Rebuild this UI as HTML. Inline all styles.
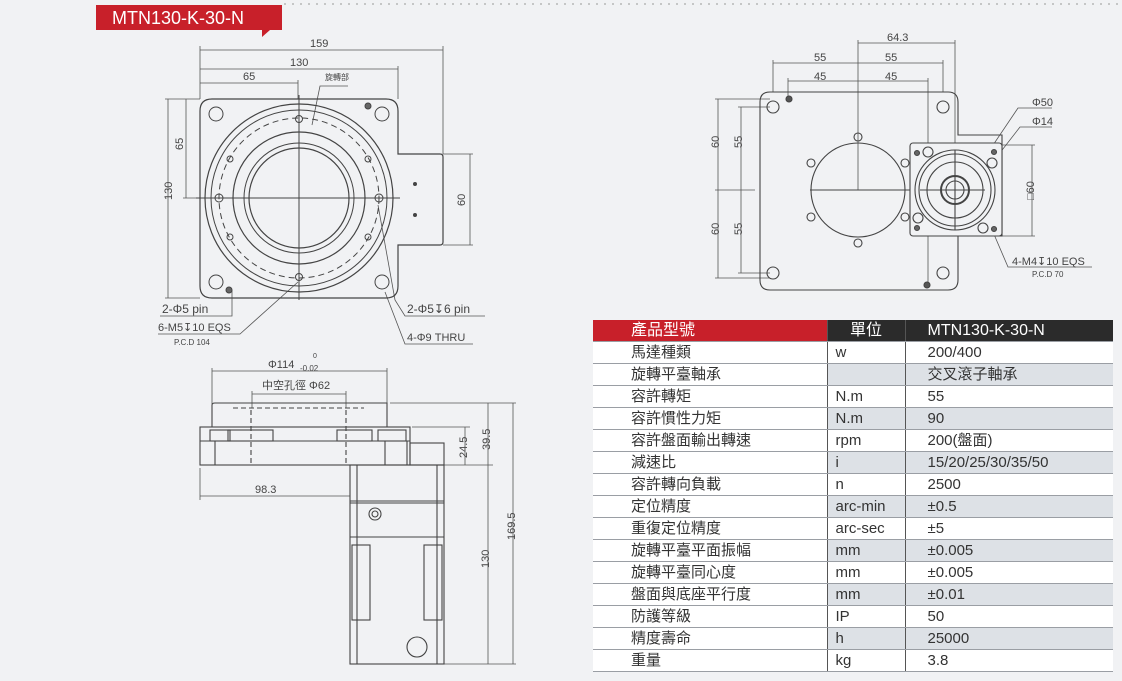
<!DOCTYPE html>
<html><head><meta charset="utf-8"><style>
body{margin:0;width:1122px;height:681px;background:#f1f2f4;font-family:"Liberation Sans","Noto Sans CJK TC",sans-serif;overflow:hidden;position:relative}
svg{position:absolute;left:0;top:0}
table{position:absolute;left:593px;top:320px;width:520px;border-collapse:collapse;table-layout:fixed;font-size:15px;color:#333}
td{height:21px;padding:0 0 0 8px;border-bottom:1px solid #9a9ea4;line-height:21px;box-sizing:border-box;white-space:nowrap;overflow:hidden}
td.c1{padding-left:38px;background:#fff}
td.c2{border-left:1px solid #555}
td.c3{border-left:1px solid #555;padding-left:22px}
tr.g td.c2,tr.g td.c3{background:#dde1e6}
tr.w td.c2,tr.w td.c3{background:#fff}
tr.h td{background:#2b2b2b;color:#fff;font-size:16px;height:21px}
tr.h td.c1{background:#c8202a}
tr.h td.c2{text-align:center;padding:0}
</style></head><body>
<svg width="1122" height="681" viewBox="0 0 1122 681" fill="none" stroke="#444" stroke-width="1" font-family="Liberation Sans, Noto Sans CJK TC, sans-serif">
<path d="M96 5 H282 V30 H270 L262 37 V30 H96 Z" fill="#c8202a" stroke="none"/>
<text x="112" y="24" fill="#fff" stroke="none" font-size="18">MTN130-K-30-N</text>
<line x1="284" y1="4" x2="1120" y2="4" stroke="#999" stroke-dasharray="2 6"/>
<g fill="#444" stroke="none" font-size="11">
<text x="310" y="47">159</text><text x="290" y="66">130</text><text x="243" y="80">65</text>
<text x="325" y="80" font-size="8">旋轉部</text>
<text x="172" y="200" transform="rotate(-90 172 200)">130</text>
<text x="183" y="150" transform="rotate(-90 183 150)">65</text>
<text x="465" y="206" transform="rotate(-90 465 206)">60</text>
<text x="162" y="313" font-size="12">2-Φ5 pin</text>
<text x="158" y="331" font-size="11">6-M5↧10 EQS</text>
<text x="174" y="345" font-size="8">P.C.D 104</text>
<text x="407" y="313" font-size="12">2-Φ5↧6 pin</text>
<text x="407" y="341" font-size="11">4-Φ9 THRU</text>
<text x="268" y="368">Φ114</text><text x="300" y="371" font-size="8">-0.02</text><text x="313" y="358" font-size="7">0</text>
<text x="262" y="389" font-size="11">中空孔徑 Φ62</text>
<text x="255" y="493">98.3</text>
<text x="467" y="458" transform="rotate(-90 467 458)">24.5</text>
<text x="490" y="450" transform="rotate(-90 490 450)">39.5</text>
<text x="515" y="540" transform="rotate(-90 515 540)">169.5</text>
<text x="489" y="568" transform="rotate(-90 489 568)">130</text>
<text x="887" y="41">64.3</text>
<text x="814" y="61">55</text><text x="885" y="61">55</text>
<text x="814" y="80">45</text><text x="885" y="80">45</text>
<text x="719" y="148" transform="rotate(-90 719 148)">60</text>
<text x="742" y="148" transform="rotate(-90 742 148)">55</text>
<text x="719" y="235" transform="rotate(-90 719 235)">60</text>
<text x="742" y="235" transform="rotate(-90 742 235)">55</text>
<text x="1032" y="106">Φ50</text><text x="1032" y="125">Φ14</text>
<text x="1034" y="200" transform="rotate(-90 1034 200)">□60</text>
<text x="1012" y="265">4-M4↧10 EQS</text>
<text x="1032" y="277" font-size="8">P.C.D 70</text>
</g>
<g stroke="#555" stroke-width="0.8">
<line x1="200" y1="50" x2="443" y2="50"/><line x1="200" y1="69" x2="398" y2="69"/><line x1="200" y1="83" x2="298" y2="83"/>
<line x1="200" y1="46" x2="200" y2="99"/><line x1="443" y1="46" x2="443" y2="154"/><line x1="398" y1="66" x2="398" y2="99"/><line x1="298" y1="80" x2="298" y2="99"/>
<line x1="168" y1="99" x2="168" y2="298"/><line x1="165" y1="99" x2="200" y2="99"/><line x1="165" y1="298" x2="200" y2="298"/>
<line x1="186" y1="99" x2="186" y2="198"/><line x1="183" y1="198" x2="215" y2="198"/>
<line x1="470" y1="154" x2="470" y2="245"/><line x1="443" y1="154" x2="473" y2="154"/><line x1="443" y1="245" x2="473" y2="245"/>
<polyline points="312,125 320,86 348,86"/>
<polyline points="160,316 232,316 232,290"/>
<polyline points="158,334 240,334 298,282"/>
<polyline points="485,316 405,316 395,300 378,205"/>
<polyline points="473,344 405,344 385,292"/>
</g>
<path d="M212 99 H386 Q398 99 398 111 V154 H440 Q443 154 443 157 V242 Q443 245 440 245 H398 V286 Q398 298 386 298 H212 Q200 298 200 286 V111 Q200 99 212 99 Z" stroke-width="1.2"/>
<circle cx="299" cy="198" r="94" stroke-width="1.2"/>
<circle cx="299" cy="198" r="88"/>
<circle cx="299" cy="198" r="80" stroke-dasharray="6 4"/>
<circle cx="299" cy="198" r="66" stroke-width="1.2"/>
<circle cx="299" cy="198" r="55"/>
<circle cx="299" cy="198" r="50" stroke-width="1.2"/>
<line x1="299" y1="95" x2="299" y2="300"/><line x1="196" y1="198" x2="400" y2="198"/>
<g><circle cx="216" cy="114" r="7"/><circle cx="382" cy="114" r="7"/><circle cx="216" cy="282" r="7"/><circle cx="382" cy="282" r="7"/>
<circle cx="299" cy="119" r="3.5"/><circle cx="299" cy="277" r="3.5"/><circle cx="230" cy="159" r="3"/><circle cx="368" cy="159" r="3"/><circle cx="230" cy="237" r="3"/><circle cx="368" cy="237" r="3"/>
<circle cx="219" cy="198" r="4"/><circle cx="379" cy="198" r="4"/><circle cx="229" cy="290" r="3" fill="#666"/><circle cx="368" cy="106" r="3" fill="#666"/>
<circle cx="415" cy="184" r="1.5" fill="#444"/><circle cx="415" cy="215" r="1.5" fill="#444"/></g>
<g stroke="#555" stroke-width="0.8">
<line x1="212" y1="371" x2="387" y2="371"/><line x1="212" y1="368" x2="212" y2="404"/><line x1="387" y1="368" x2="387" y2="404"/>
<line x1="252" y1="394" x2="346" y2="394"/><line x1="252" y1="391" x2="252" y2="408"/><line x1="346" y1="391" x2="346" y2="408"/>
<line x1="200" y1="496" x2="350" y2="496"/><line x1="200" y1="468" x2="200" y2="500"/>
<line x1="465" y1="427" x2="465" y2="465"/><line x1="412" y1="427" x2="470" y2="427"/>
<line x1="488" y1="403" x2="488" y2="664"/><line x1="390" y1="403" x2="516" y2="403"/><line x1="444" y1="465" x2="493" y2="465"/>
<line x1="513" y1="403" x2="513" y2="664"/><line x1="444" y1="664" x2="516" y2="664"/>
</g>
<g stroke-width="1.1">
<path d="M212 427 V405 Q212 403 215 403 H387 V427"/>
<line x1="233" y1="408" x2="364" y2="408" stroke-dasharray="5 3"/>
<rect x="200" y="427" width="210" height="38"/>
<rect x="410" y="443" width="34" height="22"/>
<line x1="200" y1="441" x2="410" y2="441"/>
<rect x="210" y="430" width="20" height="11"/><rect x="228" y="430" width="45" height="11"/><rect x="337" y="430" width="35" height="11"/><rect x="378" y="430" width="28" height="11"/>
<line x1="215" y1="441" x2="215" y2="465"/><line x1="385" y1="441" x2="385" y2="465"/><line x1="407" y1="441" x2="407" y2="465"/>
<line x1="251" y1="410" x2="251" y2="463" stroke-dasharray="5 3"/><line x1="346" y1="410" x2="346" y2="463" stroke-dasharray="5 3"/>
<rect x="350" y="465" width="94" height="199"/>
<line x1="357" y1="465" x2="357" y2="664"/><line x1="437" y1="465" x2="437" y2="664"/>
<line x1="350" y1="501" x2="444" y2="501"/><line x1="350" y1="503" x2="444" y2="503"/><line x1="350" y1="537" x2="444" y2="537"/>
<circle cx="375" cy="514" r="6"/><circle cx="375" cy="514" r="3"/>
<rect x="352" y="545" width="18" height="75"/><rect x="424" y="545" width="18" height="75"/>
<circle cx="417" cy="647" r="10"/>
</g>
<g stroke="#555" stroke-width="0.8">
<line x1="858" y1="43" x2="955" y2="43"/><line x1="858" y1="40" x2="858" y2="190"/><line x1="955" y1="40" x2="955" y2="145"/>
<line x1="773" y1="63" x2="943" y2="63"/><line x1="773" y1="60" x2="773" y2="92"/><line x1="943" y1="60" x2="943" y2="92"/>
<line x1="788" y1="81" x2="928" y2="81"/><line x1="788" y1="78" x2="788" y2="98"/><line x1="928" y1="78" x2="928" y2="285"/>
<line x1="718" y1="99" x2="718" y2="278"/><line x1="715" y1="99" x2="770" y2="99"/><line x1="715" y1="278" x2="770" y2="278"/>
<line x1="741" y1="107" x2="741" y2="273"/><line x1="738" y1="107" x2="770" y2="107"/><line x1="738" y1="273" x2="770" y2="273"/>
<line x1="715" y1="190" x2="755" y2="190"/>
<line x1="1032" y1="145" x2="1032" y2="236"/><line x1="1002" y1="145" x2="1035" y2="145"/><line x1="1002" y1="236" x2="1035" y2="236"/>
<polyline points="1052,108 1018,108 983,160"/><polyline points="1052,127 1020,127 985,172"/>
<polyline points="1092,267 1008,267 993,232"/>
</g>
<g stroke-width="1.1">
<path d="M770 92 H948 Q958 92 958 102 V135 H1002 V236 H958 V280 Q958 290 948 290 H770 Q760 290 760 280 V102 Q760 92 770 92 Z"/>
<circle cx="858" cy="190" r="47"/>
<line x1="810" y1="190" x2="925" y2="190"/>
<circle cx="773" cy="107" r="6"/><circle cx="943" cy="107" r="6"/><circle cx="773" cy="273" r="6"/><circle cx="943" cy="273" r="6"/>
<circle cx="789" cy="99" r="3" fill="#555"/><circle cx="927" cy="285" r="3" fill="#555"/>
<circle cx="858" cy="137" r="4"/><circle cx="858" cy="243" r="4"/><circle cx="811" cy="163" r="4"/><circle cx="811" cy="217" r="4"/><circle cx="905" cy="163" r="4"/><circle cx="905" cy="217" r="4"/>
<rect x="910" y="143" width="92" height="93" rx="3" fill="#f1f2f4"/>
<circle cx="955" cy="190" r="40"/><circle cx="955" cy="190" r="36"/><circle cx="955" cy="190" r="28"/>
<circle cx="955" cy="190" r="14" stroke-width="2"/><circle cx="955" cy="190" r="9"/>
<line x1="920" y1="190" x2="985" y2="190"/><line x1="955" y1="150" x2="955" y2="230"/>
<circle cx="928" cy="152" r="5"/><circle cx="992" cy="163" r="5"/><circle cx="918" cy="218" r="5"/><circle cx="983" cy="228" r="5"/>
<circle cx="917" cy="153" r="2.5" fill="#666"/><circle cx="994" cy="152" r="2.5" fill="#666"/><circle cx="917" cy="228" r="2.5" fill="#666"/><circle cx="994" cy="229" r="2.5" fill="#666"/>
</g>
</svg>
<table>
<colgroup><col style="width:234px"><col style="width:78px"><col style="width:208px"></colgroup>
<tr class="h"><td class="c1">產品型號</td><td class="c2">單位</td><td class="c3">MTN130-K-30-N</td></tr>
<tr class="w"><td class="c1">馬達種類</td><td class="c2">w</td><td class="c3">200/400</td></tr>
<tr class="g"><td class="c1">旋轉平臺軸承</td><td class="c2"></td><td class="c3">交叉滾子軸承</td></tr>
<tr class="w"><td class="c1">容許轉矩</td><td class="c2">N.m</td><td class="c3">55</td></tr>
<tr class="g"><td class="c1">容許慣性力矩</td><td class="c2">N.m</td><td class="c3">90</td></tr>
<tr class="w"><td class="c1">容許盤面輸出轉速</td><td class="c2">rpm</td><td class="c3">200(盤面)</td></tr>
<tr class="g"><td class="c1">減速比</td><td class="c2">i</td><td class="c3">15/20/25/30/35/50</td></tr>
<tr class="w"><td class="c1">容許轉向負載</td><td class="c2">n</td><td class="c3">2500</td></tr>
<tr class="g"><td class="c1">定位精度</td><td class="c2">arc-min</td><td class="c3">±0.5</td></tr>
<tr class="w"><td class="c1">重復定位精度</td><td class="c2">arc-sec</td><td class="c3">±5</td></tr>
<tr class="g"><td class="c1">旋轉平臺平面振幅</td><td class="c2">mm</td><td class="c3">±0.005</td></tr>
<tr class="w"><td class="c1">旋轉平臺同心度</td><td class="c2">mm</td><td class="c3">±0.005</td></tr>
<tr class="g"><td class="c1">盤面與底座平行度</td><td class="c2">mm</td><td class="c3">±0.01</td></tr>
<tr class="w"><td class="c1">防護等級</td><td class="c2">IP</td><td class="c3">50</td></tr>
<tr class="g"><td class="c1">精度壽命</td><td class="c2">h</td><td class="c3">25000</td></tr>
<tr class="w"><td class="c1">重量</td><td class="c2">kg</td><td class="c3">3.8</td></tr>
</table>
</body></html>
